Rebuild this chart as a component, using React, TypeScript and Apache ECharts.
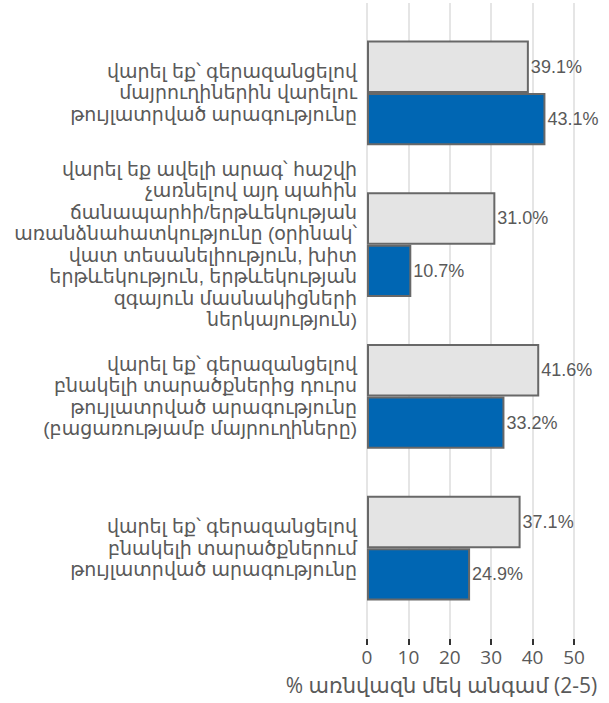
import React, { useEffect, useRef } from "react";
import * as echarts from "echarts";

const categories: string[] = [
  "վարել եք՝ գերազանցելով\nմայրուղիներին վարելու\nթույլատրված արագությունը",
  "վարել եք ավելի արագ՝ հաշվի\nչառնելով այդ պահին\nճանապարհի/երթևեկության\nառանձնահատկությունը (օրինակ՝\nվատ տեսանելիություն, խիտ\nերթևեկություն, երթևեկության\nզգայուն մասնակիցների\nներկայություն)",
  "վարել եք՝ գերազանցելով\nբնակելի տարածքներից դուրս\nթույլատրված արագությունը\n(բացառությամբ մայրուղիները)",
  "վարել եք՝ գերազանցելով\nբնակելի տարածքներում\nթույլատրված արագությունը",
];
const seriesGrayName = "Ա";
const seriesGray: number[] = [39.1, 31.0, 41.6, 37.1];
const seriesBlueName = "Բ";
const seriesBlue: number[] = [43.1, 10.7, 33.2, 24.9];
const axisTitle = "% առնվազն մեկ անգամ (2-5)";

export default function App() {
  const ref = useRef<HTMLDivElement>(null);
  useEffect(() => {
    if (!ref.current) return;
    const chart = echarts.init(ref.current, null, { renderer: "svg" });
    const font = "'Liberation Sans', 'DejaVu Sans', Arial, sans-serif";
    const labelCfg = {
      show: true,
      position: "right",
      distance: 2,
      fontSize: 18,
      color: "#595959",
      fontFamily: font,
      formatter: (p: any) => Number(p.value).toFixed(1) + "%",
    };
    chart.setOption({
      animation: false,
      backgroundColor: "#ffffff",
      grid: [
        { left: 367, right: 35, top: 17, bottom: 79, containLabel: false, outerBoundsMode: "none" },
        { left: 367, right: 35, top: 3, bottom: 64, containLabel: false, outerBoundsMode: "none" },
      ],
      xAxis: [
        {
          gridIndex: 0,
          type: "value",
          min: 0,
          max: 50,
          interval: 10,
          axisLabel: { show: false },
          axisLine: { show: false },
          axisTick: { show: false },
          splitLine: { show: false },
        },
        {
          gridIndex: 1,
          type: "value",
          min: 0,
          max: 50,
          interval: 10,
          axisLine: { show: false },
          axisTick: { show: true, length: 6, lineStyle: { color: "#333333", width: 2 } },
          splitLine: { show: true, lineStyle: { color: "#dcdcdc", width: 1.5 } },
          axisLabel: { fontSize: 19, color: "#595959", margin: 8, fontFamily: "'Open Sans', sans-serif" },
          name: axisTitle,
          nameLocation: "middle",
          nameGap: 35,
          nameTextStyle: {
            fontSize: 21,
            color: "#595959",
            fontFamily: "'Open Sans', 'DejaVu Sans', sans-serif",
            padding: [0, 58, 0, 0],
          },
        },
      ],
      yAxis: [
        {
          gridIndex: 0,
          type: "category",
          data: categories,
          inverse: true,
          axisLine: { show: false },
          axisTick: { show: false },
          splitLine: { show: false },
          axisLabel: {
            fontSize: 19,
            lineHeight: 21.5,
            color: "#595959",
            margin: 10,
            fontFamily: font,
          },
        },
        {
          gridIndex: 1,
          type: "value",
          show: false,
          splitLine: { show: false },
        },
      ],
      series: [
        {
          name: seriesGrayName,
          type: "bar",
          xAxisIndex: 0,
          yAxisIndex: 0,
          data: seriesGray,
          barGap: "0%",
          barCategoryGap: "31%",
          itemStyle: { color: "#e4e4e4", borderColor: "#686868", borderWidth: 2 },
          label: labelCfg,
        },
        {
          name: seriesBlueName,
          type: "bar",
          xAxisIndex: 0,
          yAxisIndex: 0,
          data: seriesBlue,
          barGap: "0%",
          barCategoryGap: "31%",
          itemStyle: { color: "#0066b3", borderColor: "#686868", borderWidth: 2 },
          label: labelCfg,
        },
      ],
    });
    return () => chart.dispose();
  }, []);
  return (
    <div
      ref={ref}
      style={{ position: "fixed", left: 0, top: 0, width: 609, height: 703 }}
    />
  );
}
